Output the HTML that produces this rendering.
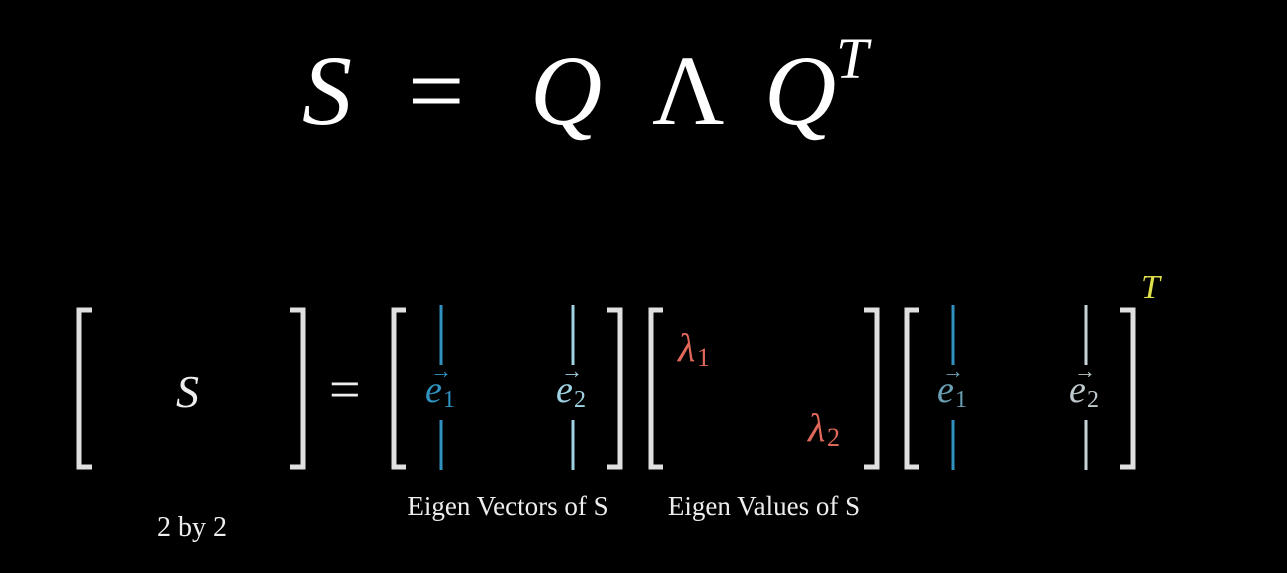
<!DOCTYPE html>
<html><head><meta charset="utf-8">
<style>
html,body{margin:0;padding:0;background:#000;width:1287px;height:573px;overflow:hidden}
svg{display:block}
text{font-family:"Liberation Serif",serif}
.it{font-style:italic}
</style></head>
<body>
<svg width="1287" height="573" viewBox="0 0 1287 573">
<rect width="1287" height="573" fill="#000"/>
<g fill="#fff">
  <text x="302" y="124" font-size="100" class="it">S</text>
  <text x="408" y="124" font-size="100">=</text>
  <text x="530" y="124" font-size="100" class="it">Q</text>
  <text x="652" y="124" font-size="100">Λ</text>
  <text x="764" y="124" font-size="100" class="it">Q</text>
  <text x="836" y="78" font-size="58" class="it">T</text>
</g>
<g fill="none" stroke="#e0e0e0" stroke-width="5">
  <path d="M92,310 H79 V467 H92"/>
  <path d="M290,310 H303 V467 H290"/>
  <path d="M406,310 H394 V467 H406"/>
  <path d="M607,310 H620 V467 H607"/>
  <path d="M663,310 H651 V467 H663"/>
  <path d="M864,310 H877 V467 H864"/>
  <path d="M919,310 H907 V467 H919"/>
  <path d="M1120,310 H1133 V467 H1120"/>
</g>
<text x="176" y="407" font-size="46" fill="#eee" class="it">S</text>
<text x="329" y="408" font-size="56" fill="#eee">=</text>
<g stroke-width="3">
  <line x1="441" y1="305" x2="441" y2="365" stroke="#2f92c0"/>
  <line x1="441" y1="420" x2="441" y2="470" stroke="#2f92c0"/>
  <line x1="573" y1="305" x2="573" y2="365" stroke="#9fd2e2"/>
  <line x1="573" y1="420" x2="573" y2="470" stroke="#9fd2e2"/>
  <line x1="953" y1="305" x2="953" y2="365" stroke="#2f92c0"/>
  <line x1="953" y1="420" x2="953" y2="470" stroke="#2f92c0"/>
  <line x1="1086" y1="305" x2="1086" y2="365" stroke="#c8d4d8"/>
  <line x1="1086" y1="420" x2="1086" y2="470" stroke="#c8d4d8"/>
</g>
<g font-size="38">
  <text x="425" y="402" fill="#2f92c0" class="it">e</text><text x="443" y="407" font-size="24" fill="#2f92c0">1</text><text x="430" y="378" font-size="22" fill="#2f92c0">→</text>
  <text x="556" y="402" fill="#9fd2e2" class="it">e</text><text x="574" y="407" font-size="24" fill="#9fd2e2">2</text><text x="561" y="378" font-size="22" fill="#9fd2e2">→</text>
  <text x="937" y="402" fill="#6aa0b4" class="it">e</text><text x="955" y="407" font-size="24" fill="#6aa0b4">1</text><text x="942" y="378" font-size="22" fill="#6aa0b4">→</text>
  <text x="1069" y="402" fill="#bfc8cc" class="it">e</text><text x="1087" y="407" font-size="24" fill="#bfc8cc">2</text><text x="1074" y="378" font-size="22" fill="#bfc8cc">→</text>
</g>
<g fill="#e0685a">
  <text x="678" y="361" font-size="40" class="it">λ</text><text x="697" y="366" font-size="26">1</text>
  <text x="808" y="441" font-size="40" class="it">λ</text><text x="827" y="446" font-size="26">2</text>
</g>
<text x="1141" y="298" font-size="34" fill="#dede4a" class="it">T</text>
<g fill="#eee" text-anchor="middle">
  <text x="192" y="536" font-size="28">2 by 2</text>
  <text x="508" y="515" font-size="27">Eigen Vectors of S</text>
  <text x="764" y="515" font-size="27">Eigen Values of S</text>
</g>
</svg>
</body></html>
